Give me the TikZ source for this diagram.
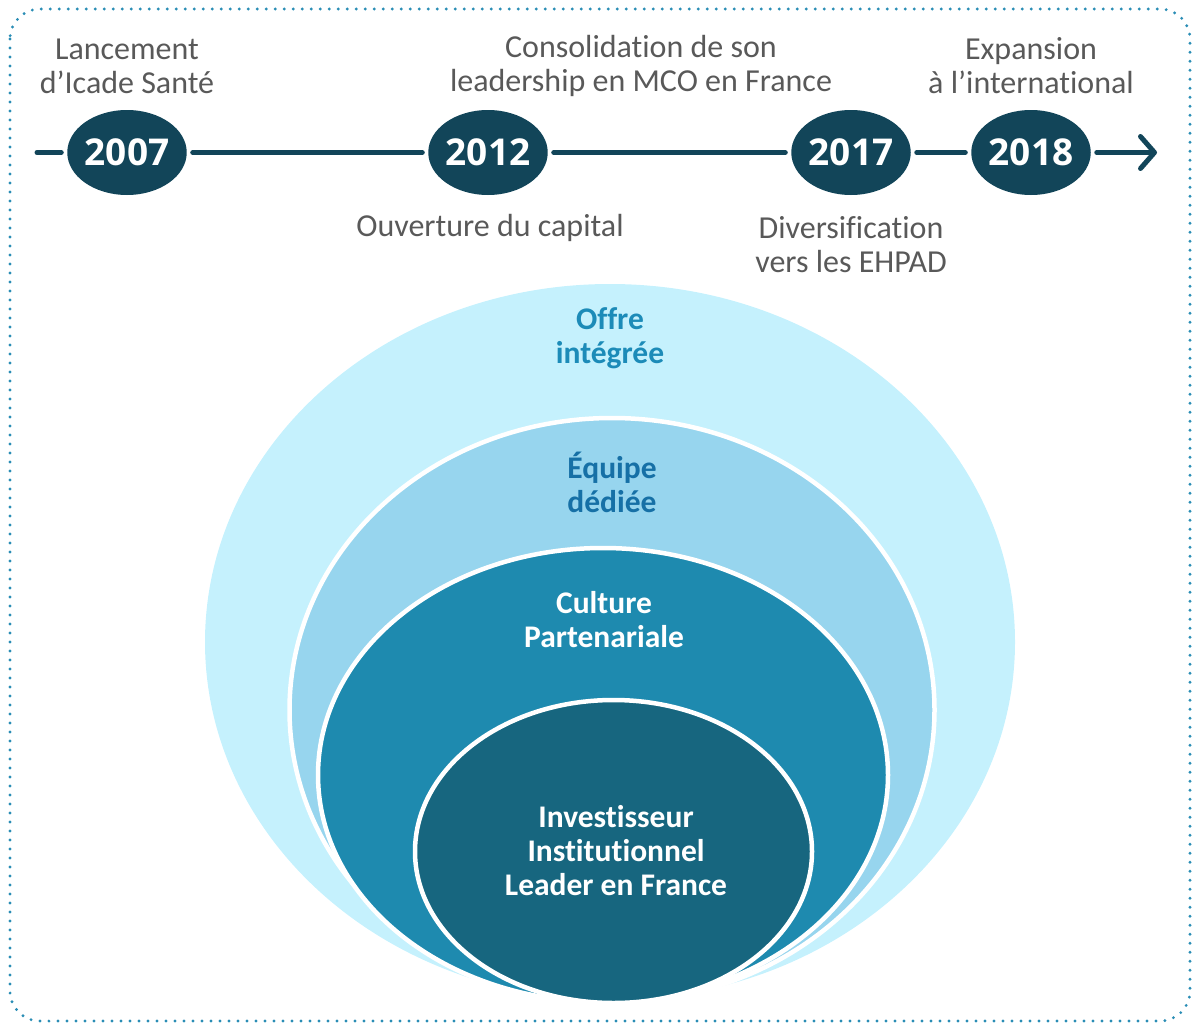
\documentclass[tikz,border=0pt]{standalone}
\usepackage{fontspec}
\setmainfont{Carlito}[RawFeature={-liga;-clig;-calt;-dlig}]
\newfontfamily\yearfont{Open Sans}
\usetikzlibrary{shapes.geometric, arrows.meta, positioning}
\definecolor{tlblue}{HTML}{124559}
\definecolor{greytext}{HTML}{595959}
\definecolor{dotblue}{HTML}{2A8DB5}
\definecolor{offrefill}{HTML}{C5F1FD}
\definecolor{equipefill}{HTML}{97D5EE}
\definecolor{culturefill}{HTML}{1E8AAF}
\definecolor{investfill}{HTML}{17667F}
\definecolor{offretext}{HTML}{1C8BB8}
\definecolor{equipetext}{HTML}{1670A6}

\tikzset{
  yearnode/.style={ellipse, fill=tlblue, text=white, minimum width=115pt, minimum height=85pt,
    inner sep=0pt, outer sep=6pt, font=\yearfont\bfseries\fontsize{37}{40}\selectfont},
  timeline/.style={draw=tlblue, line width=5pt, line cap=round},
  eventlabel/.style={align=center, text=greytext, inner sep=0pt, font=\fontsize{32}{34}\selectfont},
  ring/.style={ellipse, inner sep=0pt, draw=white, line width=4.5pt},
  ringlabel/.style={align=center, inner sep=0pt, font=\bfseries\fontsize{31.5}{34}\selectfont},
}

\begin{document}
\begin{tikzpicture}[x=1pt, y=-1pt]
    \useasboundingbox (0,0) rectangle (1198,1025);
    % Frame
    \draw [dotblue, line width=3.2pt, line cap=round, dash pattern=on 0pt off 9pt, rounded corners=30pt] (10,9) rectangle (1190,1021);

    % Timeline
    \node [yearnode] (y2007) at (127,152.5) {2007};
    \node [yearnode] (y2012) at (488,152.5) {2012};
    \node [yearnode] (y2017) at (851,152.5) {2017};
    \node [yearnode] (y2018) at (1031,152.5) {2018};
    \coordinate (tlstart) at (37,152.5);
    \coordinate (tlend) at (1157,152.5);

    \node [eventlabel] (lancement) at (127,66) {Lancement\\d’Icade Santé};
    \node [eventlabel] (consolidation) at (641,66) {Consolidation de son\\leadership en MCO en France};
    \node [eventlabel] (expansion) at (1031,66) {Expansion\\à l’international};
    \node [eventlabel] (ouverture) at (490,228) {Ouverture du capital};
    \node [eventlabel] (diversification) at (851,245) {Diversification\\vers les EHPAD};

    \draw [timeline] (tlstart) -- (y2007);
    \draw [timeline] (y2007) -- (y2012);
    \draw [timeline] (y2012) -- (y2017);
    \draw [timeline] (y2017) -- (y2018);
    \draw [timeline, -{Straight Barb[length=14pt, width=32pt, round]}] (y2018) -- (tlend);

    % Rings
    \node [ellipse, inner sep=0pt, fill=offrefill, minimum width=810pt, minimum height=716pt] (offre) at (610,642) {};
    \node [ring, fill=equipefill, minimum width=645pt, minimum height=584pt] (equipe) at (612,710) {};
    \node [ring, fill=culturefill, minimum width=570pt, minimum height=454pt] (culture) at (603,775) {};
    \node [ring, fill=investfill, minimum width=397pt, minimum height=303pt] (invest) at (613.5,851.5) {};

    \node [ringlabel, text=offretext] (offrelabel) at (610,338) {Offre\\intégrée};
    \node [ringlabel, text=equipetext] (equipelabel) at (612,482) {Équipe\\dédiée};
    \node [ringlabel, text=white] (culturelabel) at (604,620) {Culture\\Partenariale};
    \node [ringlabel, text=white] (investlabel) at (616,851) {Investisseur\\Institutionnel\\Leader en France};
\end{tikzpicture}
\end{document}
